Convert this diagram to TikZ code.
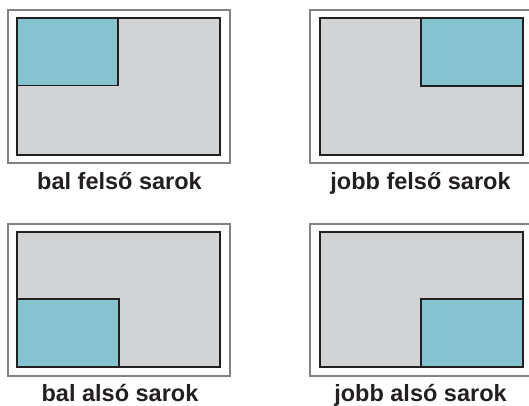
\documentclass[tikz,border=0pt]{standalone}
\usepackage{fontspec}
\setmainfont{Liberation Sans}
\definecolor{cyanfill}{HTML}{86C3D0}
\definecolor{grayfill}{HTML}{D2D3D5}
\definecolor{darkline}{HTML}{231F20}
\definecolor{frameline}{HTML}{808285}
\tikzset{
  outerframe/.style={draw=frameline, line width=2pt},
  screen/.style={draw=darkline, fill=grayfill, line width=2pt},
  corner/.style={draw=darkline, fill=cyanfill, line width=1.6pt},
  caption/.style={anchor=base, text=darkline, font=\fontsize{23.5}{28}\selectfont\bfseries, inner sep=0pt}
}
\begin{document}
\begin{tikzpicture}[x=1pt,y=-1pt]
\useasboundingbox (0,0) rectangle (529,405);
\clip (0,0) rectangle (529,405);
% top left
\draw[outerframe] (8,10) rectangle (230,163);
\draw[screen] (17,18) rectangle (220,154.5);
\draw[corner] (17,18) rectangle (118,85.5);
\node[caption] (t1) at (119.5,189) {bal felső sarok};
% top right
\draw[outerframe] (309.5,10) rectangle (540,163);
\draw[screen] (319.5,18) rectangle (523,154.5);
\draw[corner] (421,18) rectangle (523,86);
\node[caption] (t2) at (420.5,189) {jobb felső sarok};
% bottom left
\draw[outerframe] (8,223.5) rectangle (230,375.5);
\draw[screen] (17,231.5) rectangle (220,367);
\draw[corner] (17,299) rectangle (119,367);
\node[caption] (t3) at (120,401.5) {bal alsó sarok};
% bottom right
\draw[outerframe] (309.5,223.5) rectangle (540,375.5);
\draw[screen] (319.5,231.5) rectangle (522.5,367);
\draw[corner] (421,299) rectangle (522.5,367);
\node[caption] (t4) at (420.5,401.5) {jobb alsó sarok};
\end{tikzpicture}
\end{document}
